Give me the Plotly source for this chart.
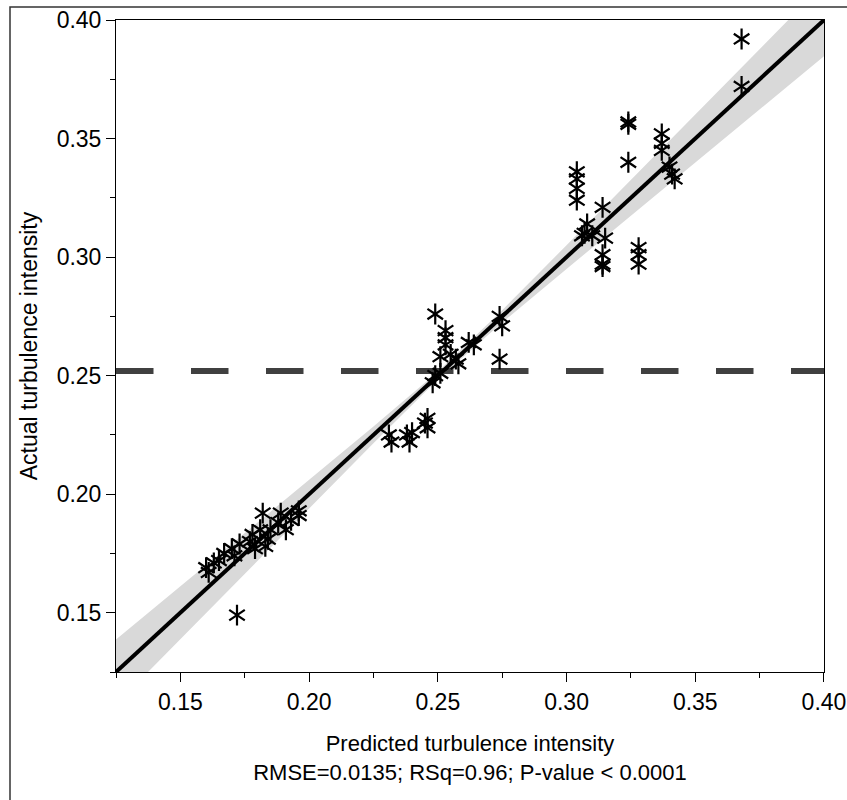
import plotly.graph_objects as go

# Predicted vs actual turbulence intensity
pred = [0.160, 0.161, 0.163, 0.165, 0.167, 0.170, 0.171, 0.173, 0.177, 0.178,
        0.181, 0.182, 0.184, 0.185, 0.188, 0.189, 0.191, 0.193, 0.196, 0.196,
        0.179, 0.183, 0.172,
        0.249, 0.253, 0.253, 0.253, 0.251, 0.255, 0.257, 0.258, 0.262, 0.264,
        0.249, 0.248, 0.251, 0.274, 0.275, 0.274, 0.246, 0.246, 0.245, 0.238,
        0.239, 0.231, 0.232, 0.240,
        0.324, 0.324, 0.324, 0.337, 0.337, 0.337, 0.340, 0.341, 0.342, 0.304,
        0.304, 0.304, 0.304, 0.314, 0.308, 0.307, 0.306, 0.315, 0.314, 0.314,
        0.314, 0.328, 0.328, 0.328, 0.310, 0.368, 0.368]
actual = [0.169, 0.167, 0.171, 0.172, 0.175, 0.177, 0.174, 0.179, 0.180, 0.183,
          0.185, 0.192, 0.181, 0.185, 0.188, 0.192, 0.185, 0.189, 0.193, 0.191,
          0.177, 0.178, 0.149,
          0.276, 0.269, 0.266, 0.263, 0.258, 0.259, 0.257, 0.255, 0.264, 0.263,
          0.250, 0.247, 0.251, 0.275, 0.271, 0.257, 0.232, 0.228, 0.230, 0.225,
          0.222, 0.225, 0.222, 0.226,
          0.357, 0.356, 0.340, 0.352, 0.348, 0.345, 0.338, 0.335, 0.333, 0.336,
          0.333, 0.329, 0.324, 0.321, 0.314, 0.310, 0.309, 0.308, 0.301, 0.297,
          0.296, 0.304, 0.301, 0.297, 0.309, 0.392, 0.372]

# Fitted line and its confidence band
fit_x = [0.125, 0.40]
fit_y = [0.125, 0.40]
band_x = [0.125, 0.15, 0.175, 0.20, 0.225, 0.25, 0.275, 0.30, 0.325, 0.35, 0.375, 0.40]
band_lo = [0.1113, 0.1389, 0.1665, 0.1940, 0.2215, 0.2484, 0.2724, 0.2950, 0.3175, 0.3399, 0.3623, 0.3847]
band_hi = [0.1387, 0.1611, 0.1835, 0.2060, 0.2285, 0.2516, 0.2776, 0.3050, 0.3325, 0.3601, 0.3877, 0.4153]

threshold = 0.252
x_range = [0.125, 0.40001]
y_range = [0.125, 0.40001]
tick_vals = [0.15, 0.20, 0.25, 0.30, 0.35, 0.40]
tick_text = ["0.15", "0.20", "0.25", "0.30", "0.35", "0.40"]

x_title = "Predicted turbulence intensity<br>RMSE=0.0135; RSq=0.96; P-value < 0.0001"
y_title = "Actual turbulence intensity"

FONT = "Liberation Sans, Arial, sans-serif"
L, R, T, B = 116, 23, 20, 128
W, H = 847, 800
PW, PH = W - L - R, H - T - B

fig = go.Figure()
fig.add_trace(go.Scatter(x=band_x, y=band_lo, mode="lines", line=dict(width=0),
                         hoverinfo="skip", showlegend=False))
fig.add_trace(go.Scatter(x=band_x, y=band_hi, mode="lines", line=dict(width=0),
                         fill="tonexty", fillcolor="#d9d9d9",
                         hoverinfo="skip", showlegend=False))
fig.add_trace(go.Scatter(x=[x_range[0], x_range[1]], y=[threshold, threshold], mode="lines",
                         line=dict(color="#404040", width=6, dash="37.5px,37.5px"),
                         showlegend=False))
fig.add_trace(go.Scatter(x=fit_x, y=fit_y, mode="lines",
                         line=dict(color="black", width=4), showlegend=False))
for sym in ["y-up-open", "y-down-open"]:
    fig.add_trace(go.Scatter(x=pred, y=actual, mode="markers",
                             marker=dict(symbol=sym, size=13, color="black",
                                         line=dict(color="black", width=2.2)),
                             showlegend=False))

axis_common = dict(
    showgrid=False, zeroline=False, showline=True, linecolor="black", linewidth=1,
    mirror=True, ticks="outside", ticklen=9, tickwidth=1, tickcolor="black",
    tickvals=tick_vals, ticktext=tick_text, ticklabeloverflow="allow", automargin=False,
    tickfont=dict(family=FONT, size=23, color="black"),
    minor=dict(ticks="outside", ticklen=5, tickwidth=1, tickcolor="black", dtick=0.025, tick0=0.125),
)

fig.update_layout(
    width=W, height=H,
    margin=dict(l=L, r=R, t=T, b=B),
    paper_bgcolor="white", plot_bgcolor="white",
    font=dict(family=FONT, color="black"),
    xaxis=dict(range=x_range, title=dict(text=x_title, font=dict(family=FONT, size=22), standoff=22),
               **axis_common),
    yaxis=dict(range=y_range, title=dict(text=y_title, font=dict(family=FONT, size=23), standoff=12),
               **axis_common),
    shapes=[dict(type="rect", xref="paper", yref="paper",
                 x0=(10 - L) / PW, x1=1 + (R + 10) / PW, y0=-(B + 10) / PH, y1=1 + (T - 7) / PH,
                 line=dict(color="#333333", width=1.5), layer="below")],
)

fig.write_html("out.html")
